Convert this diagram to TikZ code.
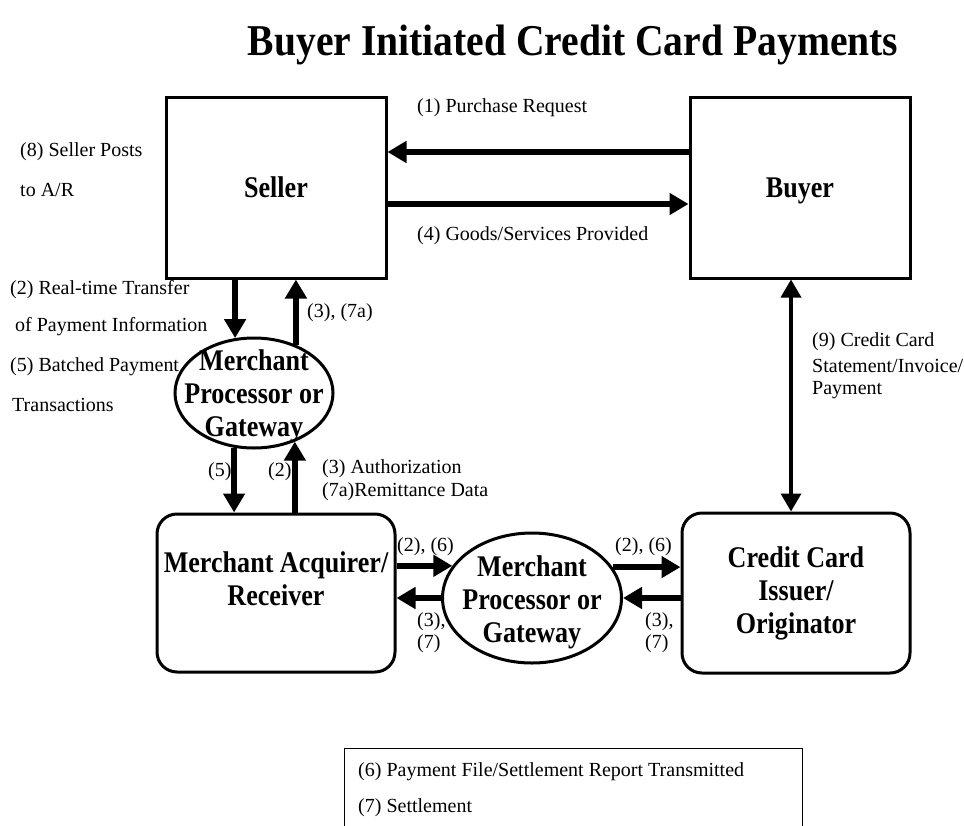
\documentclass[tikz,border=0pt]{standalone}
\usepackage{fontspec}
\setmainfont{Liberation Serif}
\newfontfamily\condfont[FakeStretch=0.87]{Liberation Serif}
\newfontfamily\headfont[FakeStretch=0.9]{Liberation Serif}
\usetikzlibrary{arrows.meta,shapes.geometric}

\begin{document}
\begin{tikzpicture}[x=1pt, y=-1pt, every node/.style={inner sep=0pt}]
        \tikzset{txtstyle/.style={anchor=west, font=\fontsize{20}{24}\selectfont}}
        \tikzset{boldstyle/.style={font=\condfont\fontsize{30}{33}\selectfont\bfseries, align=center}}
        \tikzset{boxstyle/.style={draw, line width=3pt, boldstyle}}
        \tikzset{ovalstyle/.style={draw, ellipse, line width=3pt}}
        \tikzset{flowstyle/.style={line width=5.5pt, -{Triangle[length=19pt,width=21pt]}}}
        \tikzset{twostyle/.style={line width=3.5pt, {Triangle[length=18pt,width=20pt]}-{Triangle[length=18pt,width=20pt]}}}
        \useasboundingbox (0,0) rectangle (964,825);
        \clip (0,0) rectangle (964,825);

        \node[font=\headfont\fontsize{44}{50}\selectfont\bfseries] (title) at (573,45) {Buyer Initiated Credit Card Payments};

        % boxes and ovals
        \node[boxstyle, text depth=0pt, minimum width=220pt, minimum height=181pt] (seller) at (276,187.5) {Seller};
        \node[boxstyle, text depth=0pt, minimum width=220pt, minimum height=181pt] (buyer) at (800,187.5) {Buyer};
        \node[boxstyle, rounded corners=20pt, minimum width=238pt, minimum height=158pt,
              label={[boldstyle, yshift=14pt]center:{Merchant Acquirer/\\Receiver}}] (acq) at (276,593) {};
        \node[boxstyle, rounded corners=20pt, minimum width=228pt, minimum height=160pt] (cc) at (796,593) {Credit Card\\Issuer/\\Originator};
        \node[ovalstyle, minimum width=158pt, minimum height=110pt,
              label={[boldstyle, yshift=-3pt]center:{Merchant\\Processor or\\Gateway}}] (mp1) at (254,393) {};
        \node[ovalstyle, minimum width=179pt, minimum height=130pt,
              label={[boldstyle, yshift=-4pt]center:{Merchant\\Processor or\\Gateway}}] (mp2) at (532,598) {};

        % labels
        \node[txtstyle] (l1) at (417,108) {(1) Purchase Request};
        \node[txtstyle] (l4) at (417,236) {(4) Goods/Services Provided};
        \node[txtstyle] (l8a) at (20,152) {(8) Seller Posts};
        \node[txtstyle] (l8b) at (20,190) {to A/R};
        \node[txtstyle] (l2a) at (10,290) {(2) Real-time Transfer};
        \node[txtstyle] (l2b) at (15,327) {of Payment Information};
        \node[txtstyle] (l5a) at (10,367) {(5) Batched Payment};
        \node[txtstyle] (l5b) at (12,405) {Transactions};
        \node[txtstyle] (l37a) at (307,313) {(3), (7a)};
        \node[txtstyle] (l5) at (208,472) {(5)};
        \node[txtstyle] (l2) at (268,472) {(2)};
        \node[txtstyle] (l3auth) at (322,469) {(3) Authorization};
        \node[txtstyle] (l7rem) at (322,492) {(7a)Remittance Data};
        \node[txtstyle] (l26a) at (397,547) {(2), (6)};
        \node[txtstyle] (l3a) at (417,622) {(3),};
        \node[txtstyle] (l7a) at (417,644) {(7)};
        \node[txtstyle] (l26b) at (615,547) {(2), (6)};
        \node[txtstyle] (l3b) at (645,622) {(3),};
        \node[txtstyle] (l7b) at (645,644) {(7)};
        \node[txtstyle] (l9a) at (812,342) {(9) Credit Card};
        \node[txtstyle] (l9b) at (812,366) {Statement/Invoice/};
        \node[txtstyle] (l9c) at (812,390) {Payment};

        % legend
        \node[draw, line width=1.2pt, anchor=north west, minimum width=458pt, minimum height=100pt] (legend) at (344,748) {};
        \node[txtstyle] (l6) at (358,772) {(6) Payment File/Settlement Report Transmitted};
        \node[txtstyle] (l7) at (358,808) {(7) Settlement};

        % arrows
        \path ([yshift=35.5pt]buyer.west) edge [flowstyle] ([yshift=35.5pt]buyer.west -| seller.east);
        \path ([yshift=-16.5pt]seller.east) edge [flowstyle] ([yshift=-16.5pt]seller.east -| buyer.west);
        \path (mp1.109.6 |- seller.south) edge [flowstyle] (mp1.109.6);
        \path (mp1.49.8) edge [flowstyle] (mp1.49.8 |- seller.south);
        \path (mp1.250.4) edge [flowstyle] (mp1.250.4 |- acq.north);
        \path (mp1.310.2 |- acq.north) edge [flowstyle] (mp1.310.2);
        \path (mp2.158.5 -| acq.east) edge [flowstyle] (mp2.158.5);
        \path (mp2.west) edge [flowstyle] (mp2.west -| acq.east);
        \path (mp2.21.5) edge [flowstyle] (mp2.21.5 -| cc.west);
        \path (mp2.east -| cc.west) edge [flowstyle] (mp2.east);
        \path ([xshift=-9pt]buyer.south) edge [twostyle] ([xshift=-9pt]buyer.south |- cc.north);
      \end{tikzpicture}
\end{document}
